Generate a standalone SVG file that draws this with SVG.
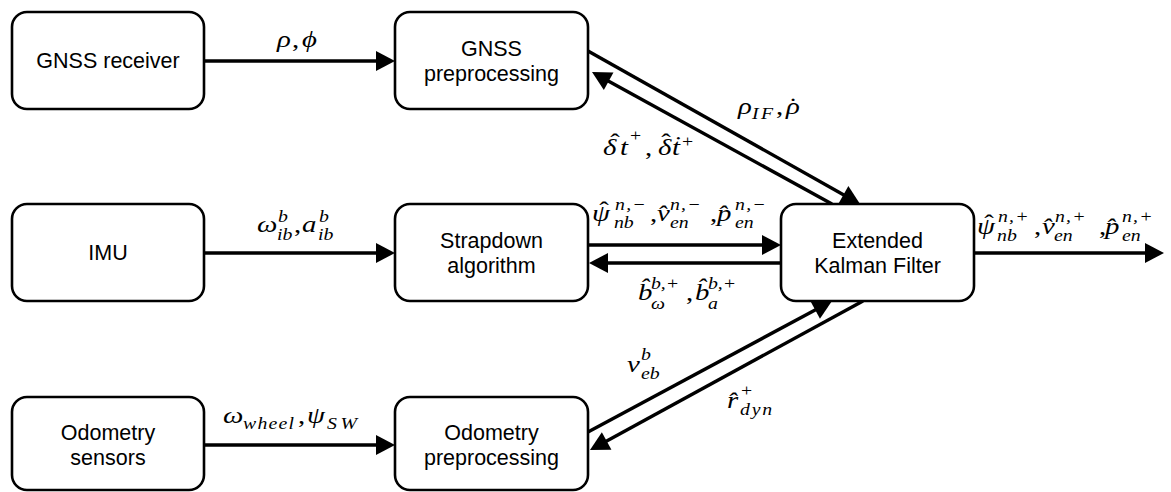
<svg xmlns="http://www.w3.org/2000/svg" width="1171" height="492" viewBox="0 0 1171 492">
<defs>
<style>
.box{fill:#fff;stroke:#000;stroke-width:2.6}
.lbl{font-family:"Liberation Sans",Arial,sans-serif;font-size:21.5px;fill:#000;text-anchor:middle}
.conn{stroke:#000;stroke-width:3.4;fill:none;marker-end:url(#ah)}
.m{font-family:"Liberation Serif","Times New Roman",serif;font-style:italic;font-size:24px;fill:#000}
.s{font-size:16.5px}
.u{font-style:normal}
</style>
<marker id="ah" markerUnits="userSpaceOnUse" markerWidth="20" markerHeight="20" refX="2" refY="10" orient="auto" overflow="visible">
<path d="M0,0 L19,10 L0,20 z" fill="#000"/>
</marker>
</defs>
<rect width="1171" height="492" fill="#fff"/>

<g id="connectors">
<path class="conn" d="M204,61 H378"/>
<path class="conn" d="M204,253 H378"/>
<path class="conn" d="M204,445 H378"/>
<path class="conn" d="M588,245 H764"/>
<path class="conn" d="M781,263 H606"/>
<path class="conn" d="M974,253 H1147"/>
<path class="conn" d="M588,51 L845.2,195.7"/>
<path class="conn" d="M832,204 L606.9,80.2"/>
<path class="conn" d="M588,432 L817,309"/>
<path class="conn" d="M863,301 L604.9,441.9"/>
</g>

<g id="node-gnss-receiver">
<rect class="box" x="12" y="12" width="192" height="97" rx="15"/>
<text class="lbl" x="108" y="68">GNSS receiver</text>
</g>
<g id="node-gnss-preprocessing">
<rect class="box" x="395" y="12" width="193" height="97" rx="15"/>
<text class="lbl" x="491.5" y="56">GNSS</text>
<text class="lbl" x="491.5" y="80.5">preprocessing</text>
</g>
<g id="node-imu">
<rect class="box" x="12" y="204" width="192" height="97" rx="15"/>
<text class="lbl" x="108" y="260">IMU</text>
</g>
<g id="node-strapdown">
<rect class="box" x="395" y="204" width="193" height="97" rx="15"/>
<text class="lbl" x="491.5" y="248">Strapdown</text>
<text class="lbl" x="491.5" y="272.5">algorithm</text>
</g>
<g id="node-ekf">
<rect class="box" x="781" y="204" width="193" height="97" rx="15"/>
<text class="lbl" x="877.5" y="248">Extended</text>
<text class="lbl" x="877.5" y="272.5">Kalman Filter</text>
</g>
<g id="node-odometry-sensors">
<rect class="box" x="12" y="397" width="192" height="93" rx="15"/>
<text class="lbl" x="108" y="440">Odometry</text>
<text class="lbl" x="108" y="464.5">sensors</text>
</g>
<g id="node-odometry-preprocessing">
<rect class="box" x="395" y="397" width="193" height="93" rx="15"/>
<text class="lbl" x="491.5" y="440">Odometry</text>
<text class="lbl" x="491.5" y="464.5">preprocessing</text>
</g>

<g id="connector-labels">
<text class="m" transform="translate(277,0) scale(1.2,1)" y="47"><tspan x="0">ρ</tspan><tspan class="u" x="12.5">,</tspan><tspan x="20.8">ϕ</tspan></text>

<text class="m" transform="translate(257,0) scale(1.2,1)"><tspan x="0" y="232">ω</tspan><tspan class="s" x="17.5" y="222">b</tspan><tspan class="s" x="16.7" y="240">ib</tspan><tspan class="u" x="30.8" y="232">,</tspan><tspan x="37.5" y="232">a</tspan><tspan class="s" x="51.7" y="222">b</tspan><tspan class="s" x="50.8" y="240">ib</tspan></text>

<text class="m" transform="translate(223,0) scale(1.2,1)"><tspan x="0" y="423">ω</tspan><tspan class="s" x="16.7" y="429" letter-spacing="1">wheel</tspan><tspan class="u" x="62.5" y="423">,</tspan><tspan x="70" y="423">ψ</tspan><tspan class="s" x="86.7" y="429" letter-spacing="3">SW</tspan></text>

<text class="m" transform="translate(738,0) scale(1.2,1)"><tspan x="0" y="114">ρ</tspan><tspan class="s" x="11.7" y="119" letter-spacing="2">IF</tspan><tspan class="u" x="31.7" y="114">,</tspan><tspan x="40" y="114">ρ</tspan><tspan class="u" x="41.8" y="114">˙</tspan></text>

<text class="m" transform="translate(603,0) scale(1.2,1)"><tspan x="0" y="155">δ</tspan><tspan class="u" x="6" y="150">ˆ</tspan><tspan x="14.2" y="155">t</tspan><tspan class="s u" x="22.5" y="141">+</tspan><tspan class="u" x="35" y="155">,</tspan><tspan x="45.8" y="155">δ</tspan><tspan class="u" x="48.5" y="150">ˆ</tspan><tspan x="57.5" y="155">ṫ</tspan><tspan class="s u" x="65.8" y="147">+</tspan></text>

<text class="m" transform="translate(592,0) scale(1.2,1)"><tspan x="0" y="221">ψ</tspan><tspan class="u" x="6" y="218">ˆ</tspan><tspan class="s" x="19.2" y="210" letter-spacing="1">n,−</tspan><tspan class="s" x="18.3" y="228">nb</tspan><tspan class="u" x="48.3" y="221">,</tspan><tspan x="54.2" y="221">v̂</tspan><tspan class="s" x="65" y="210" letter-spacing="1">n,−</tspan><tspan class="s" x="65" y="228">en</tspan><tspan class="u" x="98.3" y="221">,</tspan><tspan x="104.2" y="221">p̂</tspan><tspan class="s" x="119.2" y="210" letter-spacing="1">n,−</tspan><tspan class="s" x="119.2" y="228">en</tspan></text>

<text class="m" transform="translate(638,0) scale(1.2,1)"><tspan x="0" y="300">b̂</tspan><tspan class="s" x="10.8" y="289">b,+</tspan><tspan class="s" x="10.8" y="309">ω</tspan><tspan class="u" x="40" y="300">,</tspan><tspan x="47.5" y="300">b̂</tspan><tspan class="s" x="58.3" y="289">b,+</tspan><tspan class="s" x="58.3" y="309">a</tspan></text>

<text class="m" transform="translate(627,0) scale(1.2,1)"><tspan x="0" y="372">v</tspan><tspan class="s" x="11.7" y="360">b</tspan><tspan class="s" x="11.7" y="379">eb</tspan></text>

<text class="m" transform="translate(727,0) scale(1.2,1)"><tspan x="0" y="408">r̂</tspan><tspan class="s u" x="11.7" y="396">+</tspan><tspan class="s" x="10.8" y="415" letter-spacing="1.5">dyn</tspan></text>

<text class="m" transform="translate(977,0) scale(1.2,1)"><tspan x="0" y="234">ψ</tspan><tspan class="u" x="6" y="231">ˆ</tspan><tspan class="s" x="17.5" y="222" letter-spacing="1">n,+</tspan><tspan class="s" x="16.7" y="241">nb</tspan><tspan class="u" x="47.5" y="234">,</tspan><tspan x="54.2" y="234">v̂</tspan><tspan class="s" x="65" y="222" letter-spacing="1">n,+</tspan><tspan class="s" x="64.2" y="241">en</tspan><tspan class="u" x="101.7" y="234">,</tspan><tspan x="106.7" y="234">p̂</tspan><tspan class="s" x="120.8" y="222" letter-spacing="1">n,+</tspan><tspan class="s" x="120.8" y="241">en</tspan></text>
</g>
</svg>
